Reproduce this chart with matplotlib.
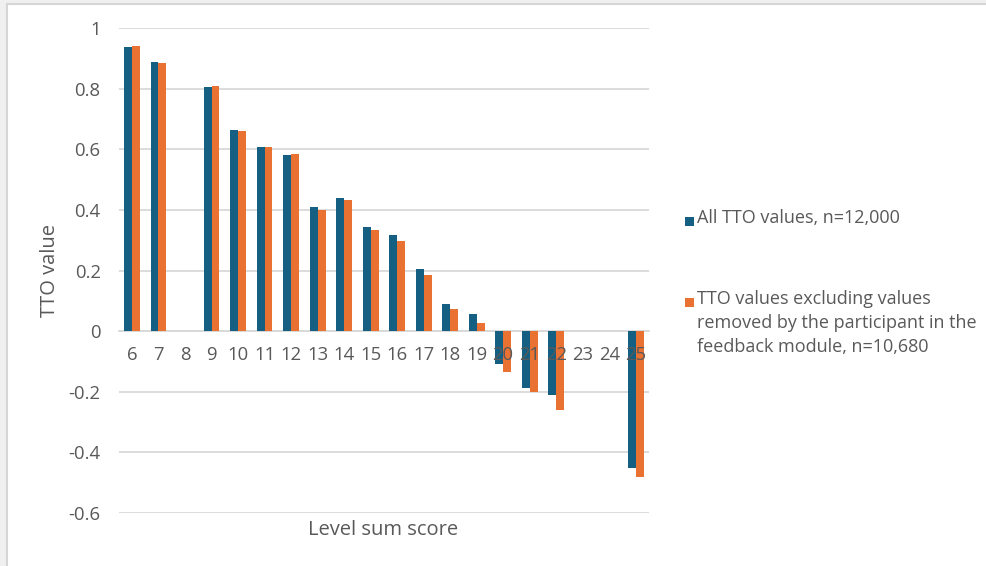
import numpy as np
import matplotlib
matplotlib.use("Agg")
import matplotlib.pyplot as plt
from matplotlib.patches import Rectangle

plt.rcParams['font.family'] = ['Open Sans', 'DejaVu Sans']

categories = ['6', '7', '8', '9', '10', '11', '12', '13', '14', '15', '16', '17',
              '18', '19', '20', '21', '22', '23', '24', '25']
all_tto = [0.937, 0.887, np.nan, 0.804, 0.665, 0.608, 0.581, 0.411, 0.438, 0.343,
           0.317, 0.204, 0.090, 0.055, -0.108, -0.186, -0.211, np.nan, np.nan, -0.453]
excl_tto = [0.940, 0.884, np.nan, 0.810, 0.661, 0.608, 0.584, 0.400, 0.434, 0.333,
            0.296, 0.184, 0.073, 0.028, -0.134, -0.200, -0.260, np.nan, np.nan, -0.481]
series_labels = ['All TTO values, n=12,000',
                 'TTO values excluding values\nremoved by the participant in the\nfeedback module, n=10,680']
y_ticks = [-0.6, -0.4, -0.2, 0, 0.2, 0.4, 0.6, 0.8, 1]
y_tick_labels = ['-0.6', '-0.4', '-0.2', '0', '0.2', '0.4', '0.6', '0.8', '1']

BLUE = '#156082'
ORANGE = '#E97132'
TEXT = '#595959'
GRID = '#D9D9D9'
FS = 13.3

W, H = 986, 566
fig = plt.figure(figsize=(W / 100, H / 100), dpi=100, facecolor='#F0F0F0')
# chart area
fig.patches.append(Rectangle((7 / W, -0.01), 1, 1.01 - 4 / H, transform=fig.transFigure,
                             facecolor='white', edgecolor='#D6D6D6', linewidth=1.5, zorder=-5))

ax = fig.add_axes([118.7 / W, 1 - 513 / H, (649 - 118.7) / W, (513 - 28) / H])
ax.set_facecolor('none')

x = np.arange(len(categories))
bw = 0.3
ax.bar(x - bw / 2, all_tto, width=bw, color=BLUE, label=series_labels[0], zorder=3)
ax.bar(x + bw / 2, excl_tto, width=bw, color=ORANGE, label=series_labels[1], zorder=3)

ax.set_xlim(-0.5, len(categories) - 0.5)
ax.set_ylim(-0.6, 1)
ax.set_yticks(y_ticks)
ax.set_yticklabels(y_tick_labels)
ax.yaxis.grid(True, color=GRID, linewidth=1.3, zorder=0)
ax.set_axisbelow(True)
ax.xaxis.set_zorder(5)  # category labels drawn over the bars

for s in ['top', 'right', 'left']:
    ax.spines[s].set_visible(False)
ax.spines['bottom'].set_position(('data', 0))
ax.spines['bottom'].set_color(GRID)
ax.spines['bottom'].set_linewidth(1.3)
ax.spines['bottom'].set_zorder(1)

ax.set_xticks(x)
ax.set_xticklabels(categories)
ax.tick_params(axis='both', length=0, colors=TEXT, labelsize=FS)
ax.tick_params(axis='x', pad=11)
ax.tick_params(axis='y', pad=13)

ax.set_ylabel('TTO value', color=TEXT, fontsize=14.5, labelpad=6)
fig.text(383 / W, 1 - 530 / H, 'Level sum score', ha='center', va='center',
         color=TEXT, fontsize=14.5)

# legend (drawn manually to align markers with first text line)
leg_x = 686
leg_rows = [221, 302]
colors = [BLUE, ORANGE]
for yy, c, lab in zip(leg_rows, colors, series_labels):
    fig.patches.append(Rectangle(((leg_x - 1) / W, 1 - (yy + 5) / H), 9 / W, 9 / H,
                                 transform=fig.transFigure, facecolor=c, edgecolor='none'))
    fig.text((leg_x + 11) / W, 1 - (yy - 12) / H, lab, ha='left', va='top',
             color=TEXT, fontsize=13.0, linespacing=1.42)

fig.savefig('out.png', dpi=100, facecolor=fig.get_facecolor())
